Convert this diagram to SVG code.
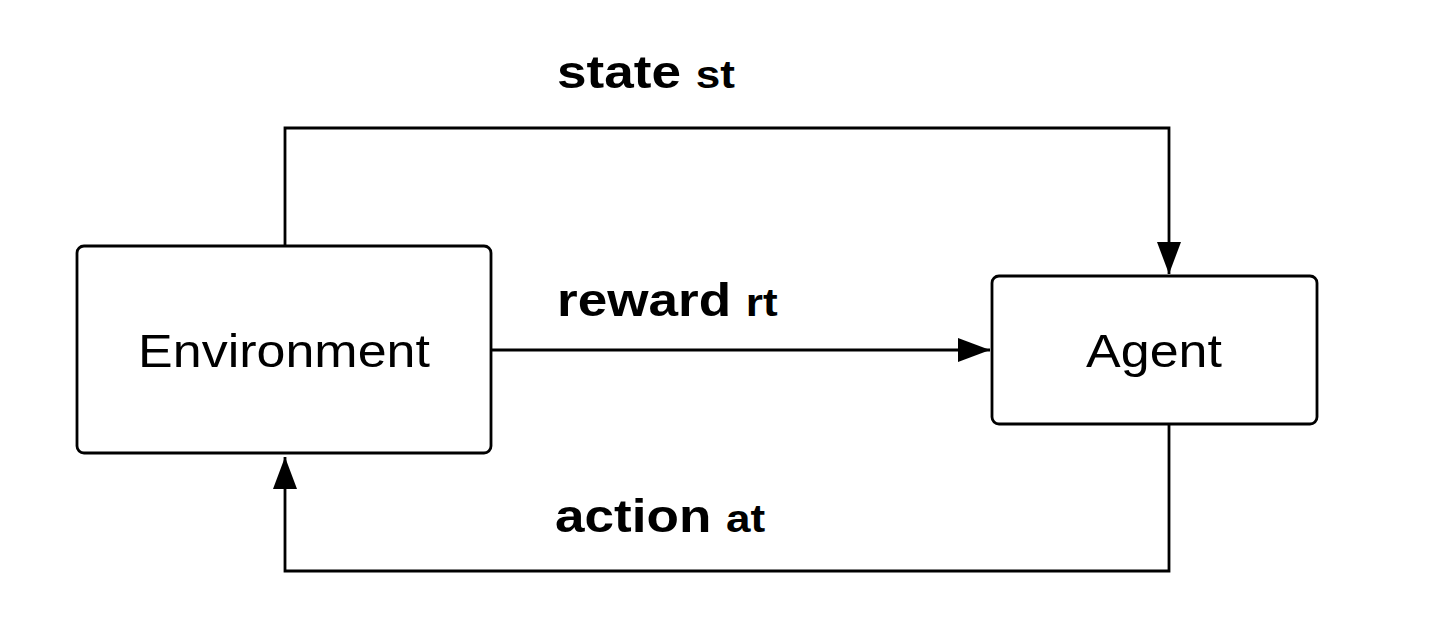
<svg xmlns="http://www.w3.org/2000/svg" width="1448" height="640" viewBox="0 0 1448 640">
<style>
.box{fill:#fff;stroke:#000;stroke-width:2.8}
.lbl{font-family:"Liberation Sans",Arial,sans-serif;font-size:46px;fill:#000}
.edge{fill:none;stroke:#000;stroke-width:2.8}
.el{font-family:"Liberation Sans",Arial,sans-serif;font-weight:bold;font-size:47px;fill:#000}
.sub{font-size:39px}
</style>
<defs>
<marker id="arr" markerUnits="userSpaceOnUse" markerWidth="34" markerHeight="26" refX="32" refY="13" orient="auto">
<path d="M0,1 L32,13 L0,25 Z" fill="#000"/>
</marker>
</defs>
<rect width="1448" height="640" fill="#fff"/>
<g id="connectors">
<path class="edge" d="M285,246 V128 H1169 V274" marker-end="url(#arr)"/>
<path class="edge" d="M491,350 H990" marker-end="url(#arr)"/>
<path class="edge" d="M1169,424 V571 H285 V457" marker-end="url(#arr)"/>
<text class="el" transform="translate(557,88) scale(1.13,1)">state <tspan class="sub">st</tspan></text>
<text class="el" transform="translate(557,316) scale(1.13,1)">reward <tspan class="sub">rt</tspan></text>
<text class="el" transform="translate(555,532) scale(1.13,1)">action <tspan class="sub">at</tspan></text>
</g>
<g id="environment">
<rect class="box" x="77" y="246" width="414" height="207" rx="7"/>
<text class="lbl" transform="translate(284,367) scale(1.13,1)" text-anchor="middle">Environment</text>
</g>
<g id="agent">
<rect class="box" x="992" y="276" width="325" height="148" rx="7"/>
<text class="lbl" transform="translate(1154,367) scale(1.13,1)" text-anchor="middle">Agent</text>
</g>
</svg>
